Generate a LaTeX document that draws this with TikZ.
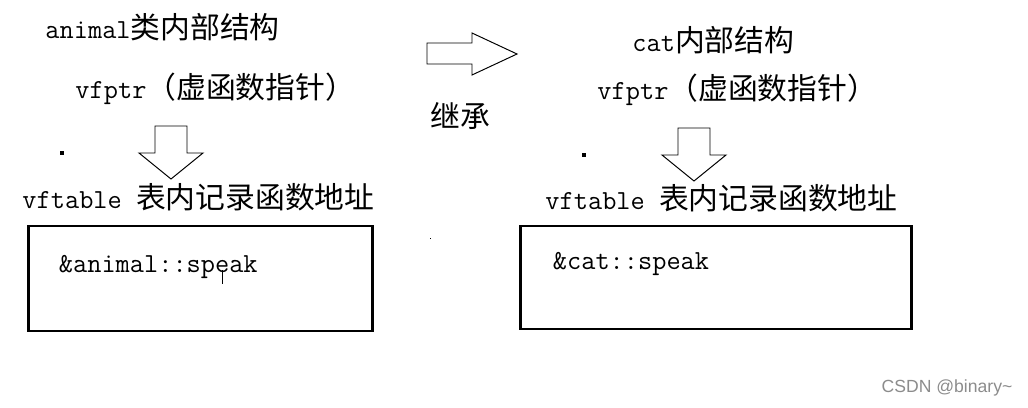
\documentclass[tikz,border=0pt]{standalone}
\usepackage{fontspec}
\setsansfont{Liberation Sans}
\newfontfamily\cjk{Noto Sans CJK SC}
\newcommand\lat{\ttfamily\fontsize{19.6}{22}\selectfont}
\newcommand\zh[1]{{\cjk\fontsize{21.2}{24}\selectfont #1}}

\begin{document}
\begin{tikzpicture}[x=0.025cm,y=-0.025cm,line width=0.7pt,font=\lat,
  txt/.style={anchor=base west,inner sep=0pt},
  tbox/.style={draw,line width=2.1pt,inner sep=0pt},
  hollow/.style={draw,fill=white,line width=0.7pt,line join=miter}]
\path[use as bounding box,fill=white] (0,0) rectangle (1028,408);
% animal side
\node[txt] (titleA) at (45,38) {animal\zh{类内部结构}};
\node[txt] (ptrA) at (75,98) {vfptr\zh{（虚函数指针）}};
\node[txt] (tabA) at (22,208) {vftable \zh{表内记录函数地址}};
\node[tbox,minimum width=8.575cm,minimum height=2.625cm] (boxA) at (200.5,278.5) {};
\node[txt] (slotA) at ([shift={(31,48)}]boxA.north west) {\&animal::speak};
\draw[line width=0.5pt] (222,270) -- (222,284);
% cat side
\node[txt] (titleC) at (632,51) {cat\zh{内部结构}};
\node[txt] (ptrC) at (597,99) {vfptr\zh{（虚函数指针）}};
\node[txt] (tabC) at (545,209) {vftable \zh{表内记录函数地址}};
\node[tbox,minimum width=9.75cm,minimum height=2.575cm] (boxC) at (716,277.5) {};
\node[txt] (slotC) at ([shift={(33,45)}]boxC.north west) {\&cat::speak};
% inheritance arrow
\draw[hollow] (427,43) -- (472,43) -- (472,33) -- (517,54) -- (472,75) -- (472,64) -- (427,64) -- cycle;
\node[txt] (inherit) at (430,127) {\zh{继承}};
% down arrows
\foreach \ax/\ay in {155/126,678/128}
  \draw[hollow] (\ax,\ay) -- ++(32,0) -- ++(0,27) -- ++(16,0) -- ++(-32,26) -- ++(-32,-26) -- ++(16,0) -- cycle;
% stray dots
\foreach \dx/\dy in {62/153,584/155}
  \fill (\dx-2,\dy-2) rectangle (\dx+2,\dy+2);
\fill (429.5,237.5) rectangle (431,239);
\node[anchor=center,inner sep=0pt,font=\sffamily\fontsize{12.5}{14}\selectfont,text=black!45] (mark) at (947,388) {CSDN @binary\textasciitilde};
\end{tikzpicture}
\end{document}
